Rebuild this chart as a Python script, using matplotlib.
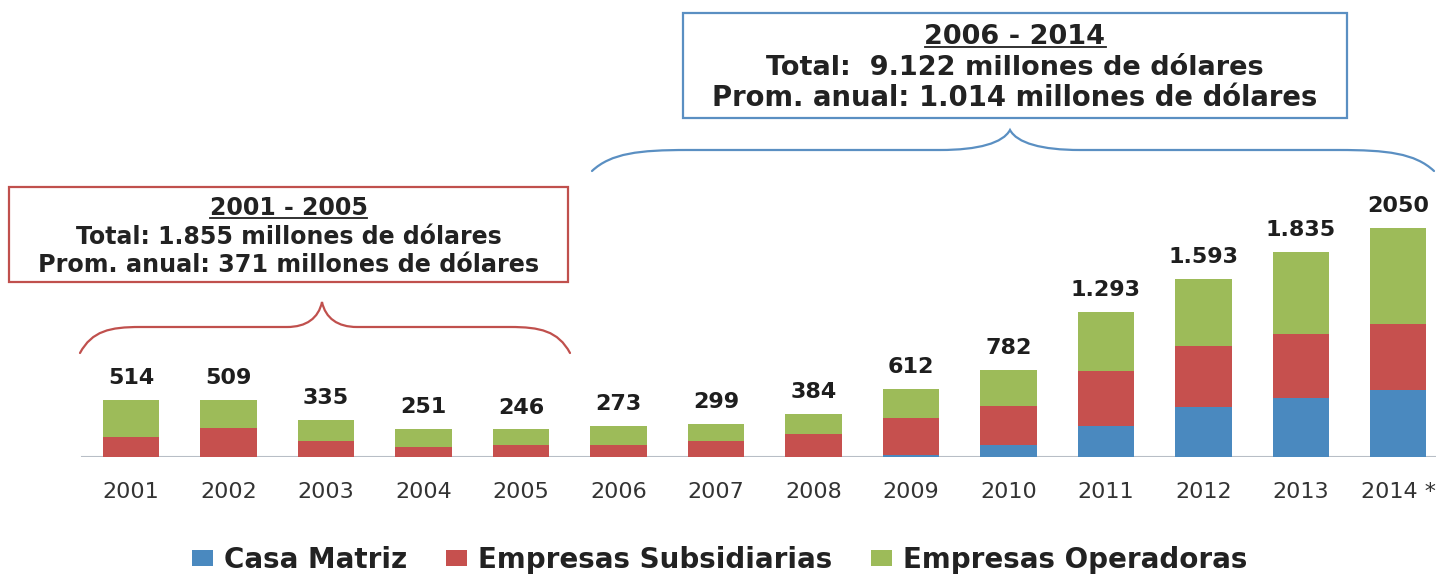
import matplotlib
matplotlib.use("Agg")
import matplotlib.pyplot as plt
from matplotlib.patches import Rectangle, PathPatch
from matplotlib.path import Path
from matplotlib.lines import Line2D
import numpy as np

years = ["2001", "2002", "2003", "2004", "2005", "2006", "2007",
         "2008", "2009", "2010", "2011", "2012", "2013", "2014 *"]
casa_matriz = [0, 0, 0, 0, 0, 0, 0, 0, 15, 105, 277, 450, 531, 602]
subsidiarias = [180, 260, 140, 90, 110, 110, 143, 203, 334, 349, 492, 538, 566, 590]
operadoras = [334, 249, 195, 161, 136, 163, 156, 181, 263, 328, 524, 605, 738, 858]
total_labels = ["514", "509", "335", "251", "246", "273", "299", "384",
                "612", "782", "1.293", "1.593", "1.835", "2050"]
series_names = ["Casa Matriz", "Empresas Subsidiarias", "Empresas Operadoras"]
colors = ["#4A89BF", "#C6504E", "#9DBB59"]

box1_lines = ["2001 - 2005", "Total: 1.855 millones de dólares",
              "Prom. anual: 371 millones de dólares"]
box2_lines = ["2006 - 2014", "Total:  9.122 millones de dólares",
              "Prom. anual: 1.014 millones de dólares"]

W, H = 1436, 574
fig = plt.figure(figsize=(W / 100, H / 100), dpi=100)
fig.patch.set_facecolor("white")

ax = fig.add_axes([0, 117 / H, 1, 457 / H])
x = np.arange(len(years))
cm = np.array(casa_matriz)
sb = np.array(subsidiarias)
op = np.array(operadoras)
bw = 0.575
b1 = ax.bar(x, cm, bw, color=colors[0], label=series_names[0], zorder=3)
b2 = ax.bar(x, sb, bw, bottom=cm, color=colors[1], label=series_names[1], zorder=3)
b3 = ax.bar(x, op, bw, bottom=cm + sb, color=colors[2], label=series_names[2], zorder=3)
tot = cm + sb + op
for xi, t, lab in zip(x, tot, total_labels):
    ax.annotate(lab, (xi, t), xytext=(0, 11.5), textcoords="offset points",
                ha="center", va="baseline", fontsize=16, fontweight="bold",
                color="#1e1e1e", family="DejaVu Sans")

ax.set_xlim(-1.344, 13.385)
ax.set_ylim(0, 4086)
for s in ax.spines.values():
    s.set_visible(False)
ax.set_yticks([])
ax.set_xticks(x)
ax.set_xticklabels(years, fontsize=16, color="#333333", family="DejaVu Sans")
ax.tick_params(axis="x", length=0, pad=18)
ax.axhline(0, xmin=(-0.5 + 1.344) / (13.385 + 1.344), xmax=1, color="#B8BEC6",
           lw=1.5, zorder=2)

# overlay in pixel coordinates for annotations
ov = fig.add_axes([0, 0, 1, 1], zorder=5)
ov.set_xlim(0, W)
ov.set_ylim(H, 0)
ov.axis("off")
ov.patch.set_alpha(0)

red_c = "#C0504D"
blue_c = "#5A8FC2"


def draw_box(x0, y0, x1, y1, color):
    ov.add_patch(Rectangle((x0, y0), x1 - x0, y1 - y0, fill=False,
                           edgecolor=color, lw=1.6))


def brace(x0, x1, xt, y_end, y_mid, y_tip, w_end, w_tip, color):
    dy = y_end - y_mid
    dt = y_mid - y_tip
    verts = [
        (x0, y_end),
        (x0 + 0.2 * w_end, y_mid + 0.15 * dy), (x0 + 0.5 * w_end, y_mid), (x0 + w_end, y_mid),
        (xt - w_tip, y_mid),
        (xt - 0.45 * w_tip, y_mid), (xt - 0.1 * w_tip, y_mid - 0.35 * dt), (xt, y_tip),
        (xt + 0.1 * w_tip, y_mid - 0.35 * dt), (xt + 0.45 * w_tip, y_mid), (xt + w_tip, y_mid),
        (x1 - w_end, y_mid),
        (x1 - 0.5 * w_end, y_mid), (x1 - 0.2 * w_end, y_mid + 0.15 * dy), (x1, y_end),
    ]
    codes = [Path.MOVETO,
             Path.CURVE4, Path.CURVE4, Path.CURVE4,
             Path.LINETO,
             Path.CURVE4, Path.CURVE4, Path.CURVE4,
             Path.CURVE4, Path.CURVE4, Path.CURVE4,
             Path.LINETO,
             Path.CURVE4, Path.CURVE4, Path.CURVE4]
    ov.add_patch(PathPatch(Path(verts, codes), fill=False, edgecolor=color,
                           lw=1.6, capstyle="round"))


# box 1 (2001-2005)
draw_box(9, 187, 568, 282, red_c)
brace(80, 570, 322, 353, 327, 302, 60, 35, red_c)
cx1 = (9 + 568) / 2
t1 = []
for txt, yb, fs in zip(box1_lines, [215, 243.5, 271.5], [17, 17, 17.2]):
    t1.append(ov.text(cx1, yb, txt, ha="center", va="baseline", fontsize=fs,
                      fontweight="bold", color="#222222", family="DejaVu Sans"))

# box 2 (2006-2014)
draw_box(683, 13, 1347, 118, blue_c)
brace(592, 1434, 1010, 171, 150, 130, 95, 70, blue_c)
cx2 = (683 + 1347) / 2
t2 = []
for txt, yb, fs in zip(box2_lines, [43.5, 75, 106.5], [19.5, 19.5, 19.8]):
    t2.append(ov.text(cx2, yb, txt, ha="center", va="baseline", fontsize=fs,
                      fontweight="bold", color="#222222", family="DejaVu Sans"))

# legend
fig.legend(handles=[b1, b2, b3], labels=series_names, loc="center",
           bbox_to_anchor=(720 / W, 1 - 560 / H), ncol=3, frameon=False,
           prop={"family": "DejaVu Sans", "weight": "bold", "size": 20},
           handlelength=0.75, handleheight=0.5, handletextpad=0.4,
           columnspacing=1.4, labelcolor="#222222")

# underline headings
fig.canvas.draw()
r = fig.canvas.get_renderer()
inv = ov.transData.inverted()
for t, yl in [(t1[0], 218), (t2[0], 47)]:
    bb = t.get_window_extent(r)
    (xa, _), (xb, _) = inv.transform([(bb.x0, bb.y0), (bb.x1, bb.y0)])
    ov.add_line(Line2D([xa, xb], [yl, yl], color="#222222", lw=1.3))

fig.savefig("out.png", dpi=100, facecolor="white")
